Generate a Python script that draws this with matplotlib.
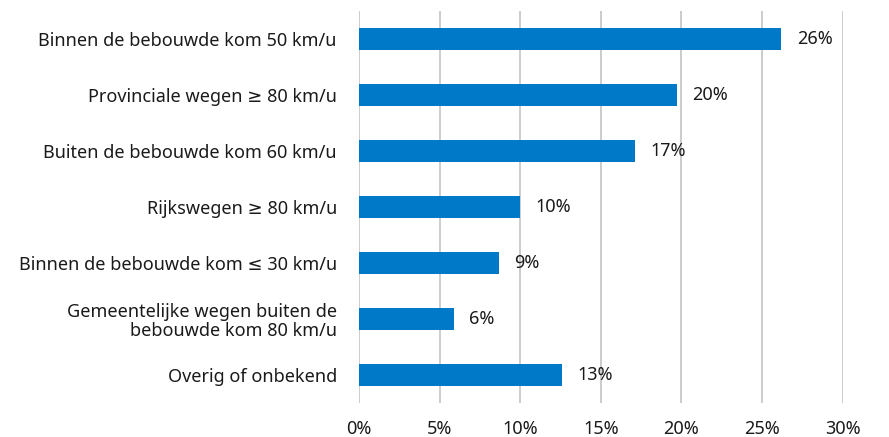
import matplotlib.pyplot as plt

categories = [
    "Binnen de bebouwde kom 50 km/u",
    "Provinciale wegen ≥ 80 km/u",
    "Buiten de bebouwde kom 60 km/u",
    "Rijkswegen ≥ 80 km/u",
    "Binnen de bebouwde kom ≤ 30 km/u",
    "Gemeentelijke wegen buiten de\nbebouwde kom 80 km/u",
    "Overig of onbekend",
]
values = [26.2, 19.7, 17.1, 10.0, 8.7, 5.9, 12.6]
value_labels = ["26%", "20%", "17%", "10%", "9%", "6%", "13%"]
x_ticks = [0, 5, 10, 15, 20, 25, 30]

plt.rcParams["font.family"] = ["Noto Sans", "DejaVu Sans"]

fig = plt.figure(figsize=(8.89, 4.37), dpi=100)
ax = fig.add_axes([359 / 889, 1 - 403 / 437, (842.7 - 359) / 889, 392 / 437])

pos = list(range(len(categories)))
bars = ax.barh(pos, values, height=0.4, color="#0079c8", zorder=2)
ax.bar_label(bars, labels=value_labels, padding=11, fontsize=13, color="#1a1a1a")

ax.set_ylim(len(categories) - 0.5, -0.5)
ax.set_xlim(0, 30)
ax.set_yticks(pos)
ax.set_yticklabels(categories, fontsize=13, color="#1a1a1a", linespacing=1.05)
ax.set_xticks(x_ticks)
ax.set_xticklabels([f"{t}%" for t in x_ticks], fontsize=13, color="#1a1a1a")
ax.tick_params(axis="y", length=0, pad=16)
ax.tick_params(axis="x", length=0, pad=12)
for lbl in ax.get_yticklabels():
    lbl.set_multialignment("right")

ax.grid(axis="x", color="#c8c8c8", linewidth=1.3, zorder=0)
ax.set_axisbelow(True)
for s in ax.spines.values():
    s.set_visible(False)

fig.savefig("out.png", dpi=100)
